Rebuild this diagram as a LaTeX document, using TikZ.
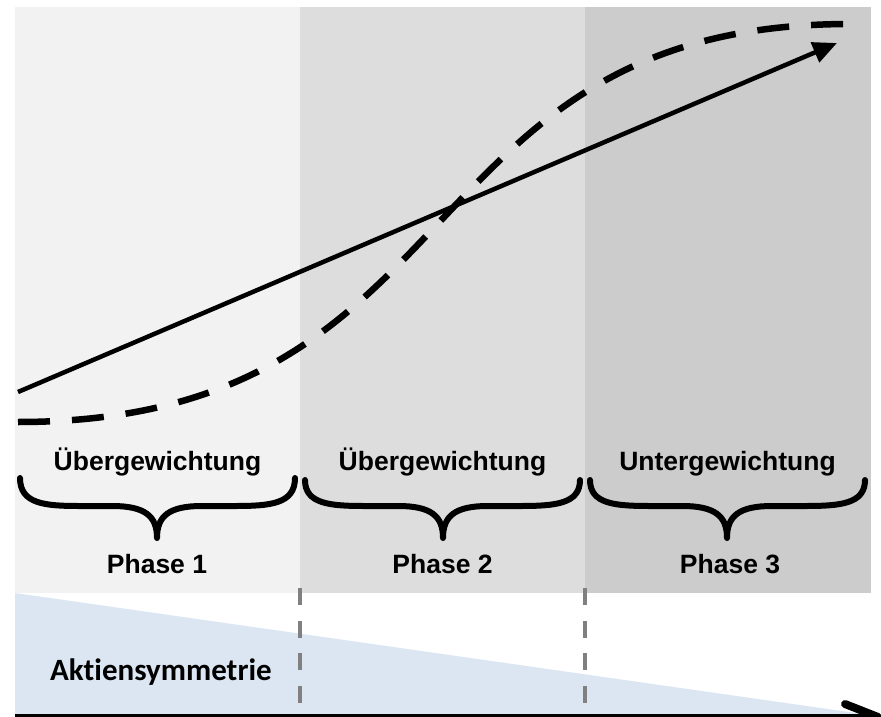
\documentclass[tikz,border=0pt]{standalone}
\usepackage{fontspec}
\setmainfont{Liberation Sans}
\newfontfamily\calib[Ligatures=NoCommon]{Carlito}
\usetikzlibrary{arrows.meta}
\definecolor{pone}{HTML}{F2F2F2}
\definecolor{ptwo}{HTML}{DDDDDD}
\definecolor{pthree}{HTML}{CCCCCC}
\definecolor{tri}{HTML}{DCE6F2}
\definecolor{sep}{HTML}{808080}
\tikzset{
  lbl/.style={font=\fontsize{26.5}{30}\selectfont\bfseries, inner sep=0pt, anchor=base},
  brc/.style={line width=6pt, line cap=round, line join=round},
  sepline/.style={sep, line width=4pt, dash pattern=on 17pt off 15.5pt},
}
\newcommand{\mybrace}[4]{% left, mid, right, top
  \draw[brc] (#1,#4) .. controls (#1,504) and (#1+25,506) .. (#1+60,506)
    -- (#2-45,506) .. controls (#2-12,506) and (#2,516) .. (#2,538)
    .. controls (#2,516) and (#2+12,506) .. (#2+45,506)
    -- (#3-60,506) .. controls (#3-25,506) and (#3,504) .. (#3,#4);
}
\begin{document}
\begin{tikzpicture}[x=1pt,y=-1pt]
\useasboundingbox (0,0) rectangle (881,717);
% panels
\fill[pone] (15,7) rectangle (300,593);
\fill[ptwo] (300,7) rectangle (585,593);
\fill[pthree] (585,7) rectangle (871,593);
% triangle
\fill[tri] (15,593) -- (870,715) -- (15,715) -- cycle;
% separators
\draw[sepline] (300,588) -- (300,705);
\draw[sepline] (585,588) -- (585,705);
% bottom axis
\draw[line width=3.5pt] (15,715.5) -- (871,715.5);
\draw[line width=8pt, line cap=round] (845,704) -- (878,717);
% curves
\coordinate (s0) at (18,392);
\coordinate (s1) at (837,43);
\coordinate (d0) at (18,422);
\coordinate (d1) at (850,24);
\draw[line width=6.5pt, dash pattern=on 32pt off 22pt] (d0) .. controls (480,422) and (400,24) .. (d1);
\draw[line width=4.5pt, -{Triangle[length=24pt,width=21pt]}] (s0) -- (s1);
% braces
\mybrace{20}{157}{295}{478}
\mybrace{305}{443}{580}{480}
\mybrace{590}{727}{865}{480}
% labels
\node[lbl] (u1) at (157.5,470) {Übergewichtung};
\node[lbl] (u2) at (442.5,470) {Übergewichtung};
\node[lbl] (u3) at (727.5,470) {Untergewichtung};
\node[lbl] (p1) at (157,573) {Phase 1};
\node[lbl] (p2) at (442.5,573) {Phase 2};
\node[lbl] (p3) at (730,573) {Phase 3};
\node[inner sep=0pt, anchor=base west, font=\calib\fontsize{31}{36}\selectfont\bfseries] (ak) at (50,680) {Aktiensymmetrie};
\end{tikzpicture}
\end{document}
